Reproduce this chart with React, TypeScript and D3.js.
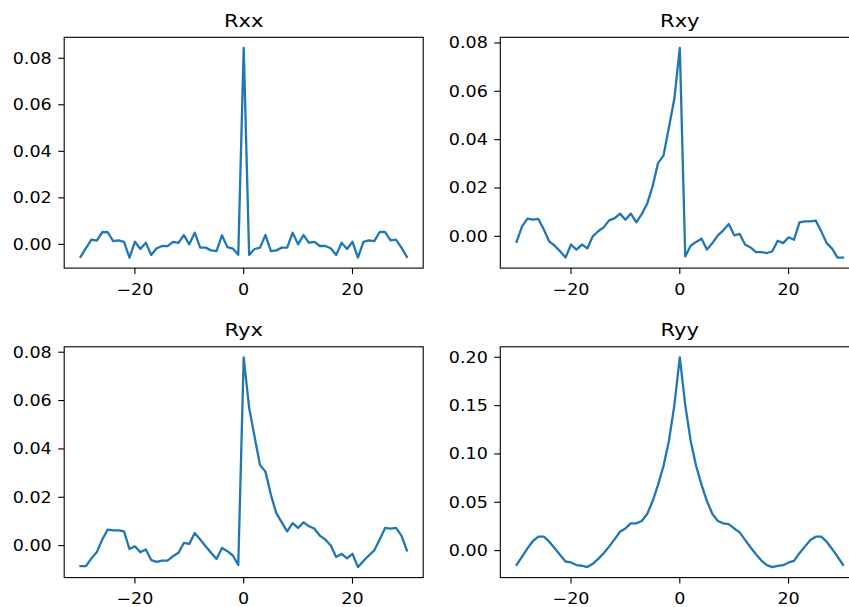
import React from "react";
import * as d3 from "d3";

const lags: number[] = d3.range(-30, 31);

const rxx: number[] = [
  -0.0054, -0.0016, 0.002, 0.0016, 0.0053, 0.0052, 0.0014, 0.0017, 0.0011, -0.0057,
  0.0011, -0.002, 0.0007, -0.0046, -0.0017, -0.0007, -0.0008, 0.0011, 0.0006, 0.004,
  0.0, 0.005, -0.0014, -0.0014, -0.0026, -0.0029, 0.0039, -0.0012, -0.0018, -0.0045,
  0.0845,
  -0.0046, -0.002, -0.0014, 0.004, -0.0029, -0.0026, -0.0014, -0.0014, 0.005, 0.0,
  0.004, 0.0007, 0.0011, -0.0007, -0.0007, -0.0017, -0.0046, 0.0007, -0.002, 0.0011,
  -0.0057, 0.0011, 0.0017, 0.0014, 0.0053, 0.0053, 0.0017, 0.002, -0.0014, -0.0054,
];

const rxy: number[] = [
  -0.0023, 0.0041, 0.0073, 0.0069, 0.0072, 0.0028, -0.0021, -0.0039, -0.0062, -0.0088,
  -0.0034, -0.0055, -0.0034, -0.005, 0.0, 0.0021, 0.0037, 0.0066, 0.0074, 0.0094,
  0.0069, 0.0094, 0.0058, 0.0092, 0.0135, 0.0207, 0.0303, 0.0334, 0.045, 0.057,
  0.078,
  -0.0083, -0.0039, -0.0023, -0.001, -0.0055, -0.0028, 0.0004, 0.0025, 0.0051, 0.0004,
  0.001, -0.0034, -0.0046, -0.0065, -0.0065, -0.0069, -0.0062, -0.0018, -0.0028, -0.0004,
  -0.0014, 0.0058, 0.0062, 0.0062, 0.0065, 0.0021, -0.0028, -0.0051, -0.0088, -0.0088,
];

const ryx: number[] = [
  -0.0085, -0.0085, -0.0053, -0.0027, 0.0025, 0.0066, 0.0063, 0.0063, 0.0059, -0.0014,
  -0.0003, -0.0027, -0.0016, -0.006, -0.0067, -0.0062, -0.0062, -0.0044, -0.003, 0.0011,
  0.0007, 0.0052, 0.0025, -0.0003, -0.003, -0.0055, -0.001, -0.0023, -0.0041, -0.008,
  0.0779,
  0.057, 0.045, 0.0333, 0.0306, 0.021, 0.0134, 0.0096, 0.0059, 0.0093, 0.0073,
  0.0096, 0.008, 0.007, 0.0041, 0.0025, 0.0, -0.0047, -0.0034, -0.0053, -0.0034,
  -0.0089, -0.0064, -0.0041, -0.002, 0.0025, 0.0073, 0.007, 0.0073, 0.0041, -0.002,
];

const ryy: number[] = [
  -0.0147, -0.0062, 0.0024, 0.0099, 0.0144, 0.0144, 0.0092, 0.0024, -0.0045, -0.0113,
  -0.0123, -0.015, -0.0157, -0.0171, -0.0137, -0.0086, -0.0027, 0.0041, 0.0116, 0.0195,
  0.0229, 0.0281, 0.0281, 0.0306, 0.0378, 0.051, 0.068, 0.0875, 0.1135, 0.1505,
  0.2,
  0.1505, 0.1135, 0.0875, 0.068, 0.051, 0.0378, 0.0306, 0.0281, 0.0274, 0.0229,
  0.0188, 0.011, 0.0034, -0.0038, -0.0103, -0.0151, -0.0171, -0.0158, -0.0151, -0.0123,
  -0.0106, -0.0027, 0.0041, 0.011, 0.0144, 0.0144, 0.0092, 0.0017, -0.0062, -0.0147,
];

const titles: string[] = ["Rxx", "Rxy", "Ryx", "Ryy"];
const xTicks: number[] = [-20, 0, 20];
const yTicksSmall: number[] = [0.0, 0.02, 0.04, 0.06, 0.08];
const yTicksLarge: number[] = [0.0, 0.05, 0.1, 0.15, 0.2];

const FONT = "'DejaVu Sans', sans-serif";
const LINE = "#1f77b4";
const SX = 1.17;

type PanelProps = {
  left: number;
  top: number;
  width: number;
  height: number;
  title: string;
  values: number[];
  yTicks: number[];
};

function fmt(v: number): string {
  return v.toFixed(2);
}

function fmtX(v: number): string {
  return v < 0 ? "\u2212" + Math.abs(v) : String(v);
}

function Txt(props: { x: number; y: number; size: number; anchor: string; dy?: string; children: string }) {
  return (
    <g transform={`translate(${props.x},${props.y}) scale(${SX},1)`}>
      <text
        x={0}
        y={0}
        dy={props.dy}
        textAnchor={props.anchor as any}
        fontFamily={FONT}
        fontSize={props.size}
        fill="#000"
      >
        {props.children}
      </text>
    </g>
  );
}

function Panel({ left, top, width, height, title, values, yTicks }: PanelProps) {
  const xMin = d3.min(lags) as number;
  const xMax = d3.max(lags) as number;
  const xPad = (xMax - xMin) * 0.05;
  const x = d3.scaleLinear().domain([xMin - xPad, xMax + xPad]).range([left, left + width]);
  const [yLo, yHi] = d3.extent(values) as [number, number];
  const yPad = (yHi - yLo) * 0.05;
  const y = d3.scaleLinear().domain([yLo - yPad, yHi + yPad]).range([top + height, top]);
  const line = d3
    .line<number>()
    .x((_, i) => x(lags[i]))
    .y((d) => y(d));
  const bottom = top + height;
  return (
    <g>
      <path
        d={line(values) || ""}
        fill="none"
        stroke={LINE}
        strokeWidth={2.3}
        strokeLinejoin="round"
        strokeLinecap="square"
      />
      <rect x={left} y={top} width={width} height={height} fill="none" stroke="#000" strokeWidth={1.1} />
      {xTicks.map((t) => (
        <g key={"x" + t}>
          <line x1={x(t)} x2={x(t)} y1={bottom} y2={bottom + 6} stroke="#000" strokeWidth={1.1} />
          <Txt x={x(t)} y={bottom + 26.5} size={15} anchor="middle">
            {fmtX(t)}
          </Txt>
        </g>
      ))}
      {yTicks.map((t) => (
        <g key={"y" + t}>
          <line x1={left - 6} x2={left} y1={y(t)} y2={y(t)} stroke="#000" strokeWidth={1.1} />
          <Txt x={left - 12.5} y={y(t)} dy="0.36em" size={15} anchor="end">
            {fmt(t)}
          </Txt>
        </g>
      ))}
      <Txt x={left + width / 2} y={top - 10.6} size={18} anchor="middle">
        {title}
      </Txt>
    </g>
  );
}

export default function App() {
  const colX = [64.2, 500.3];
  const rowY = [37.3, 346.8];
  const w = 359;
  const h = 230.8;
  const series = [rxx, rxy, ryx, ryy];
  const ticks = [yTicksSmall, yTicksSmall, yTicksSmall, yTicksLarge];
  return (
    <div style={{ position: "fixed", left: 0, top: 0, width: 849, height: 607, overflow: "hidden", background: "#fff" }}>
      <svg width={849} height={607} style={{ display: "block" }}>
        <rect x={0} y={0} width={849} height={607} fill="#fff" />
        {series.map((vals, i) => (
          <Panel
            key={titles[i]}
            left={colX[i % 2]}
            top={rowY[Math.floor(i / 2)]}
            width={w}
            height={h}
            title={titles[i]}
            values={vals}
            yTicks={ticks[i]}
          />
        ))}
      </svg>
    </div>
  );
}
